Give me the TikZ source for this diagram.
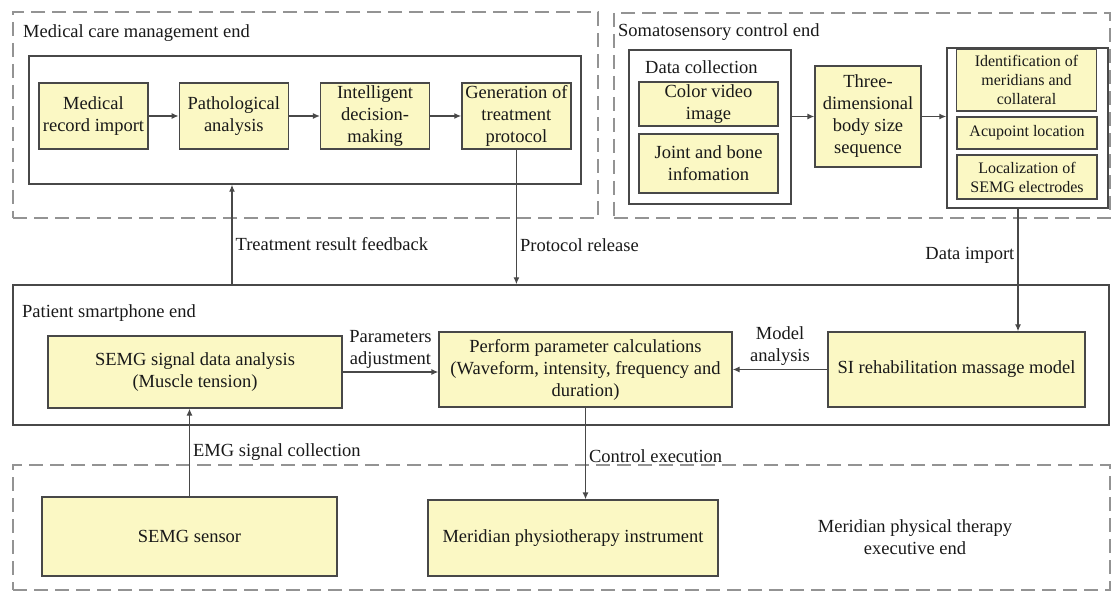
\documentclass[tikz,border=0pt]{standalone}
\usepackage{fontspec}
\setmainfont{Liberation Serif}
\usepackage{tikz}
\usetikzlibrary{arrows.meta, positioning, calc}
\definecolor{boxfill}{RGB}{251,248,196}
\definecolor{edgegray}{RGB}{72,72,72}
\definecolor{inkgray}{RGB}{25,25,25}

\begin{document}
\begin{tikzpicture}[x=1pt, y=-1pt,
  zone/.style={rectangle, draw=gray!85, line width=1.2pt, dash pattern=on 14pt off 7pt, inner sep=0pt},
  frame/.style={rectangle, draw=edgegray, line width=1.4pt, inner sep=0pt},
  block/.style={rectangle, draw=edgegray, line width=1.3pt, fill=boxfill, align=center, inner sep=2pt, text=inkgray, font=\fontsize{18.5pt}{22pt}\selectfont},
  stepbox/.style={block, minimum width=109, minimum height=66},
  subbox/.style={block, minimum width=140, font=\fontsize{16pt}{19pt}\selectfont},
  title/.style={anchor=west, inner sep=0pt, text=inkgray, font=\fontsize{18.5pt}{22pt}\selectfont},
  flow/.style={-{Latex[length=7pt, width=6pt]}, line width=1.3pt, edgegray},
  flabel/.style={text=inkgray, font=\fontsize{18.5pt}{22pt}\selectfont, align=center, inner sep=3pt},
]
\useasboundingbox (0,0) rectangle (1111,593);

% ── MEDICAL CARE MANAGEMENT END (top left) ──
\node[zone, minimum width=585, minimum height=206] (medzone) at (305.5,115) {};
\node[title] (medtitle) at (23,33) {Medical care management end};
\node[frame, minimum width=552, minimum height=128] (medin) at (305,120) {};

\node[stepbox] (record) at (93.5,116) {Medical\\record import};
\node[stepbox, right=30pt of record] (patho) {Pathological\\analysis};
\node[stepbox, right=31pt of patho] (decide) {Intelligent\\decision-\\making};
\node[stepbox, right=31pt of decide] (protocol) {Generation of\\treatment\\protocol};

% ── SOMATOSENSORY CONTROL END (top right) ──
\node[zone, minimum width=496, minimum height=205] (somazone) at (862,115.5) {};
\node[title] (somatitle) at (618,32) {Somatosensory control end};

\node[frame, minimum width=162, minimum height=154] (collect) at (710,127) {};
\node[title] (colltitle) at (645,67) {Data collection};
\node[block, minimum width=139, minimum height=44] (video) at (708.5,104) {Color video\\image};
\node[block, minimum width=139, minimum height=59] (joint) at (708.5,163.5) {Joint and bone\\infomation};

\node[block, minimum width=106, minimum height=101] (body) at (868,116.5) {Three-\\dimensional\\body size\\sequence};

\node[frame, minimum width=161, minimum height=160] (locate) at (1027.5,128) {};
\node[subbox, minimum height=62] (ident) at (1026.5,80) {Identification of\\meridians and\\collateral};
\node[subbox, minimum height=32] (acu) at (1027,133) {Acupoint location};
\node[subbox, minimum height=44] (electrode) at (1027,177) {Localization of\\SEMG electrodes};

% ── PATIENT SMARTPHONE END (middle) ──
\node[frame, minimum width=1096, minimum height=140] (patient) at (561,355) {};
\node[title] (pattitle) at (22,313) {Patient smartphone end};

\node[block, minimum width=294, minimum height=72] (semgan) at (195,372) {SEMG signal data analysis\\(Muscle tension)};
\node[block, minimum width=293, minimum height=75] (calc) at (585.5,369.5) {Perform parameter calculations\\(Waveform, intensity, frequency and\\duration)};
\node[block, minimum width=257, minimum height=75] (model) at (956.5,369.5) {SI rehabilitation massage model};

% ── MERIDIAN PHYSICAL THERAPY EXECUTIVE END (bottom) ──
\node[zone, minimum width=1097, minimum height=125] (execzone) at (561.5,527.5) {};
\node[block, minimum width=295, minimum height=79] (sensor) at (189.5,536.5) {SEMG sensor};
\node[block, minimum width=290, minimum height=76] (instr) at (573,538) {Meridian physiotherapy instrument};
\node[flabel] (exectitle) at (915,537) {Meridian physical therapy\\executive end};

% ── CONNECTORS ──
\coordinate (feedx) at (232,0);
\coordinate (importx) at (1018,0);

% chain inside the management end
\draw[flow] (record) -- (patho);
\draw[flow] (patho) -- (decide);
\draw[flow] (decide) -- (protocol);

% chain inside the somatosensory end
\draw[flow] (collect.east |- body.west) -- (body.west);
\draw[flow] (body.east) -- (body.east -| locate.west);

% between the ends
\draw[flow] (patient.north -| feedx) -- node[flabel, pos=0.4, right]{Treatment result feedback} (medin.south -| feedx);
\draw[flow] (protocol.south) -- node[flabel, pos=0.71, right]{Protocol release} (protocol.south |- patient.north);
\draw[flow] (locate.south -| importx) -- node[flabel, pos=0.38, left]{Data import} (model.north -| importx);

% inside the smartphone end
\draw[flow] (semgan.east) -- node[flabel, above]{Parameters\\adjustment} (semgan.east -| calc.west);
\draw[flow] (model.west) -- node[flabel, above]{Model\\analysis} (model.west -| calc.east);

% down to the executive end
\draw[flow] (sensor.north) -- node[flabel, pos=0.5, right]{EMG signal collection} (sensor.north |- semgan.south);
\draw[flow] (calc.south) -- node[flabel, pos=0.53, right]{Control execution} (calc.south |- instr.north);

\end{tikzpicture}
\end{document}
